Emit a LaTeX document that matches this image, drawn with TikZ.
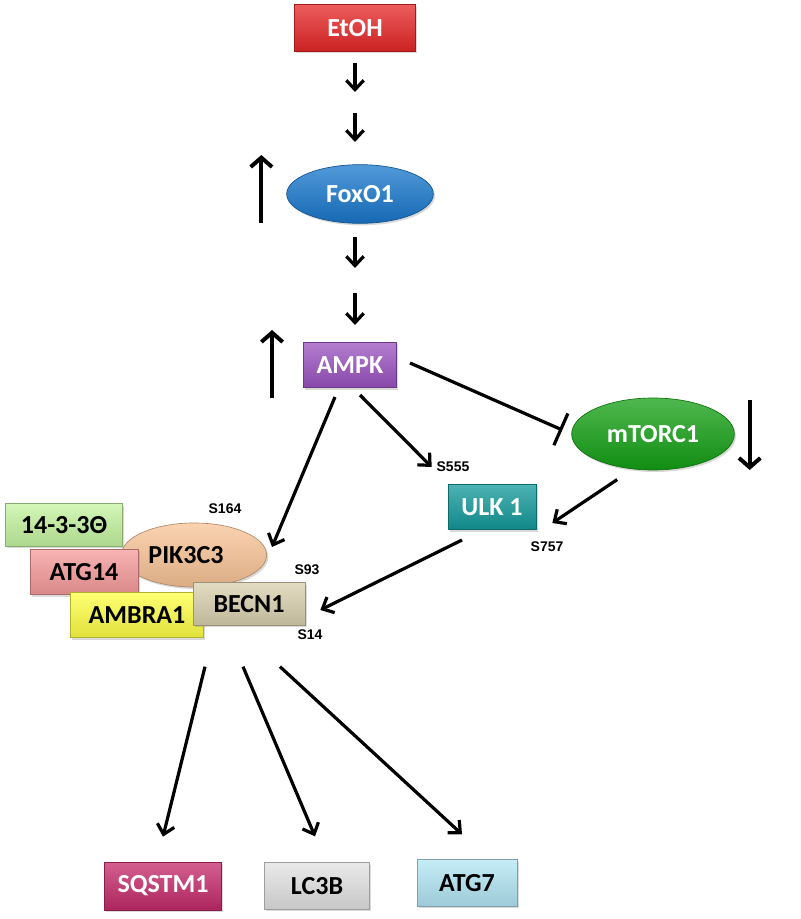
\documentclass[tikz,border=0pt]{standalone}
\usepackage{fontspec}
\setmainfont{Carlito}
\newfontfamily\sitefont{Liberation Sans}
\usetikzlibrary{arrows.meta,shapes.geometric,shadows}
\definecolor{etohred}{HTML}{E62626}
\definecolor{foxblue}{HTML}{1877CC}
\definecolor{ampkpurple}{HTML}{9A52C0}
\definecolor{mtorgreen}{HTML}{14A014}
\definecolor{ulkteal}{HTML}{12999A}
\definecolor{ywhagreen}{HTML}{C4F4A0}
\definecolor{pikpeach}{HTML}{F9C496}
\definecolor{atgpink}{HTML}{F69A9A}
\definecolor{ambyellow}{HTML}{FFFF44}
\definecolor{becntan}{HTML}{D9D0AE}
\definecolor{sqmagenta}{HTML}{C42A6A}
\definecolor{lcgrey}{HTML}{E2E2E2}
\definecolor{atgcyan}{HTML}{B2E6F4}

\begin{document}
\begin{tikzpicture}[x=0.75pt, y=-0.75pt,
  >={Straight Barb[length=7pt,width=13pt]},
  prot/.style={rectangle, draw=#1!70!black, line width=0.5pt,
    top color=#1!75!white, bottom color=#1!88!black,
    drop shadow={opacity=0.3, shadow xshift=1.2pt, shadow yshift=-1.5pt},
    font=\bfseries\fontsize{19.5}{22}\selectfont, inner sep=0pt},
  oval/.style={prot=#1, ellipse},
  act/.style={->, line width=2.4pt},
  level/.style={->, line width=3pt, >={Straight Barb[length=7pt,width=16pt]}},
  inhib/.style={-{Bar[width=26pt]}, line width=2.4pt},
  site/.style={font=\sitefont\bfseries\fontsize{10.5}{12}\selectfont, inner sep=0pt}]
  \useasboundingbox (0,0) rectangle (800,919);

  \node [prot=etohred, text=white, minimum width=91pt, minimum height=35pt] (EtOH) at (355, 28) {EtOH};
  \node [oval=foxblue, text=white, minimum width=110pt, minimum height=44pt] (FoxO1) at (360, 194) {FoxO1};
  \node [prot=ampkpurple, text=white, minimum width=70pt, minimum height=34pt] (AMPK) at (350, 365) {AMPK};
  \node [oval=mtorgreen, text=white, minimum width=122pt, minimum height=54pt] (mTORC1) at (653, 434) {mTORC1};
  \node [prot=ulkteal, text=white, minimum width=66pt, minimum height=34pt] (ULK1) at (492, 507) {ULK 1};

  % complex
  \node [prot=ywhagreen, minimum width=88pt, minimum height=32pt] (YWHA) at (64, 525) {14-3-3Θ};
  \node [oval=pikpeach, minimum width=109pt, minimum height=48pt] (PIK3C3) at (194, 555) {\hspace*{-12pt}PIK3C3};
  \node [prot=atgpink, minimum width=81pt, minimum height=34pt] (ATG14) at (84, 572) {ATG14};
  \node [prot=ambyellow, minimum width=100pt, minimum height=34pt] (AMBRA1) at (137, 615) {AMBRA1};
  \node [prot=becntan, minimum width=84pt, minimum height=32pt] (BECN1) at (249, 604) {BECN1};

  \node [prot=sqmagenta, text=white, minimum width=88pt, minimum height=36pt] (SQSTM1) at (163, 886) {SQSTM1};
  \node [prot=lcgrey, minimum width=79pt, minimum height=35pt] (LC3B) at (317, 886) {LC3B};
  \node [prot=atgcyan, minimum width=75pt, minimum height=35pt] (ATG7) at (467, 883) {ATG7};

  % sites
  \node [site] (s555) at (453, 467) {S555};
  \node [site] (s757) at (547, 547) {S757};
  \node [site] (s164) at (225, 509) {S164};
  \node [site] (s93) at (307, 570) {S93};
  \node [site] (s14) at (310, 635) {S14};

  % pathway steps
  \coordinate (p1) at (355, 63);  \coordinate (p2) at (355, 92);
  \coordinate (p3) at (355, 113); \coordinate (p4) at (355, 142);
  \coordinate (p5) at (355, 237); \coordinate (p6) at (355, 268);
  \coordinate (p7) at (355, 293); \coordinate (p8) at (355, 325);
  \draw [act] (p1) -- (p2);
  \draw [act] (p3) -- (p4);
  \draw [act] (p5) -- (p6);
  \draw [act] (p7) -- (p8);

  \draw [inhib] ([shift={(13,-2)}]AMPK.east) -- ([shift={(-9,-4)}]mTORC1.west);
  \draw [act] ([shift={(10,7)}]AMPK.south) -- ([shift={(-16,-17)}]ULK1.north west);
  \draw [act] ([shift={(-15,9)}]AMPK.south) -- ([shift={(5,-8)}]PIK3C3.east);
  \draw [act, shorten <=14pt] (mTORC1.240) -- ([shift={(16,16)}]ULK1.east);
  \draw [act] ([shift={(-30,10)}]ULK1.south) -- ([shift={(15,6)}]BECN1.east);

  \draw [act] ([shift={(-44,41)}]BECN1.south) -- ([shift={(0,-25)}]SQSTM1.north);
  \draw [act] ([shift={(-6,41)}]BECN1.south) -- ([shift={(-2,-26)}]LC3B.north);
  \draw [act] ([shift={(31,41)}]BECN1.south) -- ([shift={(-5,-25)}]ATG7.north);

  % levels
  \draw [level] ([shift={(-25,29)}]FoxO1.west) -- ([shift={(-25,-39)}]FoxO1.west);
  \draw [level] ([shift={(-31,33)}]AMPK.west) -- ([shift={(-31,-35)}]AMPK.west);
  \draw [level] ([shift={(15,-34)}]mTORC1.east) -- ([shift={(15,36)}]mTORC1.east);
\end{tikzpicture}
\end{document}
